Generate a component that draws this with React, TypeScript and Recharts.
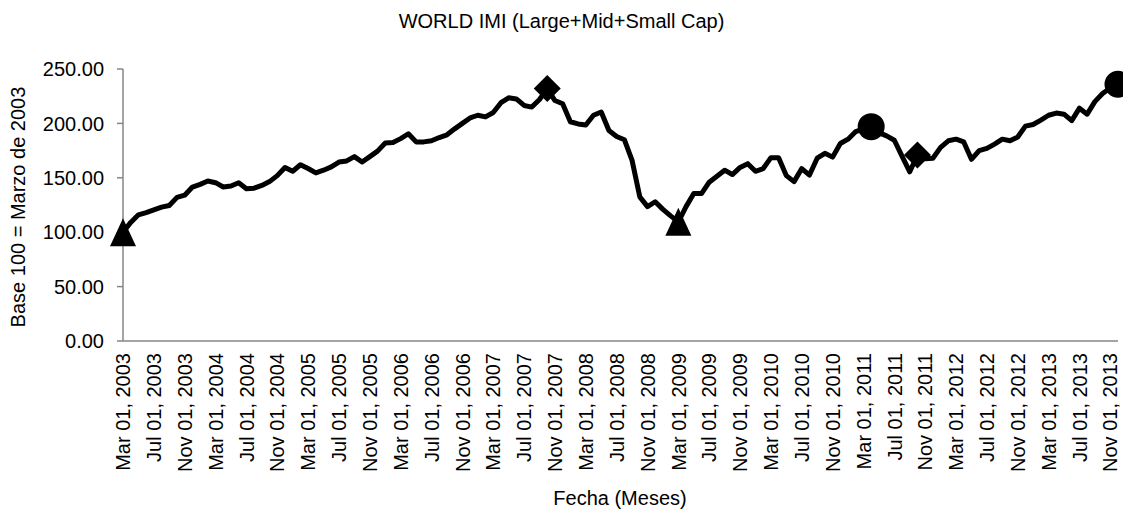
import { LineChart, Line, XAxis, YAxis } from 'recharts'

const FONT = '"Liberation Sans", Arial, sans-serif'
const FS = 20
const AXIS_GRAY = '#868686'

// monthly series, base 100 = Mar 2003 (Mar 2003 .. Dec 2013)
const START_YEAR = 2003
const START_MONTH = 2
const MONTH_NAMES = ['Jan', 'Feb', 'Mar', 'Apr', 'May', 'Jun', 'Jul', 'Aug', 'Sep', 'Oct', 'Nov', 'Dec']

const worldImi = [
  100, 109, 116, 118, 120.5, 123, 124.5, 132, 134, 141.5,
  144, 147, 145.5, 141.5, 142.5, 145.5, 140, 140.5, 143, 146.5,
  152, 159.5, 156, 162, 158.5, 154.5, 157, 160, 164.5, 165.5,
  169.5, 164.5, 169.5, 174.5, 182, 182.5, 186, 190.5, 183, 183,
  184, 187, 189.5, 195, 200, 205, 207.5, 206, 210, 219,
  223.5, 222.5, 216.5, 215, 222, 232, 221, 218, 201.5, 199.5,
  198.5, 207.5, 210.5, 193.5, 188, 185, 166, 132.5, 123.5, 128,
  121, 115, 109.5, 123.5, 135.5, 135.5, 146, 151.5, 157, 153,
  159.5, 163, 156, 158.5, 168.5, 168.5, 152, 146.5, 158.5, 152.5,
  168, 172.5, 169, 181.5, 185.5, 192.5, 195, 197, 191.5, 188.5,
  184.5, 170, 155.5, 171, 167.5, 168, 178, 184, 185.5, 183,
  167, 175, 177, 181, 185.5, 184, 187.5, 197.5, 199, 203,
  207.5, 209.5, 208.5, 202.5, 214, 208.5, 220, 227.5, 232.5, 236,
]

const yTicks = [0, 50, 100, 150, 200, 250]

// highlighted points: index into worldImi and marker shape
const markerIndex = [0, 55, 72, 97, 103, 129]
const markerShape = ['triangle', 'diamond', 'triangle', 'circle', 'diamond', 'circle']

const data = worldImi.map((v, i) => {
  const m = START_MONTH + i
  return {
    label: `${MONTH_NAMES[m % 12]} 01, ${START_YEAR + Math.floor(m / 12)}`,
    value: v,
  }
})

function renderDot(props: any) {
  const { cx, cy, index } = props
  const k = markerIndex.indexOf(index)
  if (k < 0) return <g key={`d-${index}`} />
  const shape = markerShape[k]
  if (shape === 'circle') {
    return <circle key={`d-${index}`} cx={cx} cy={cy} r={13.5} fill="#000" />
  }
  if (shape === 'diamond') {
    const h = 13.5
    return (
      <polygon
        key={`d-${index}`}
        points={`${cx},${cy - h} ${cx + h},${cy} ${cx},${cy + h} ${cx - h},${cy}`}
        fill="#000"
      />
    )
  }
  return (
    <polygon
      key={`d-${index}`}
      points={`${cx},${cy - 14} ${cx + 13},${cy + 14} ${cx - 13},${cy + 14}`}
      fill="#000"
    />
  )
}

function XTick({ x, y, payload }: any) {
  return (
    <g transform={`translate(${x},${y})`}>
      <text
        transform="rotate(-90)"
        x={-12}
        y={0}
        dy="0.36em"
        textAnchor="end"
        fontSize={FS}
        fontFamily={FONT}
        fill="#000"
      >
        {payload.value}
      </text>
    </g>
  )
}

export default function App() {
  return (
    <div
      style={{
        position: 'absolute',
        left: 0,
        top: 0,
        width: 1123,
        height: 510,
        background: '#fff',
        fontFamily: FONT,
      }}
    >
      <div
        style={{
          position: 'absolute',
          left: 0,
          width: 1123,
          top: 10,
          textAlign: 'center',
          fontSize: FS,
          color: '#000',
        }}
      >
        WORLD IMI (Large+Mid+Small Cap)
      </div>
      <div
        style={{
          position: 'absolute',
          left: 18 - 150,
          top: 207 - 12,
          width: 300,
          height: 24,
          lineHeight: '24px',
          textAlign: 'center',
          fontSize: FS,
          transform: 'rotate(-90deg)',
          color: '#000',
        }}
      >
        Base 100 = Marzo de 2003
      </div>
      <div
        style={{
          position: 'absolute',
          left: 620 - 150,
          width: 300,
          top: 487,
          textAlign: 'center',
          fontSize: FS,
          color: '#000',
        }}
      >
        Fecha (Meses)
      </div>
      <LineChart
        width={1123}
        height={510}
        data={data}
        margin={{ top: 69, right: 5, bottom: 0, left: 0 }}
      >
        <XAxis
          dataKey="label"
          interval={3}
          height={169}
          tickSize={0}
          tickMargin={0}
          tickLine={false}
          axisLine={{ stroke: AXIS_GRAY, strokeWidth: 1.5 }}
          tick={<XTick />}
        />
        <YAxis
          width={123}
          domain={[0, 250]}
          ticks={yTicks}
          tickFormatter={(v: number) => v.toFixed(2)}
          tickSize={6}
          tickMargin={13}
          axisLine={{ stroke: AXIS_GRAY, strokeWidth: 1.5 }}
          tickLine={{ stroke: AXIS_GRAY, strokeWidth: 1.5 }}
          tick={{ fontSize: FS, fontFamily: FONT, fill: '#000' }}
        />
        <Line
          type="linear"
          dataKey="value"
          stroke="#000"
          strokeWidth={5}
          strokeLinejoin="round"
          dot={renderDot}
          activeDot={false}
          isAnimationActive={false}
        />
      </LineChart>
    </div>
  )
}
